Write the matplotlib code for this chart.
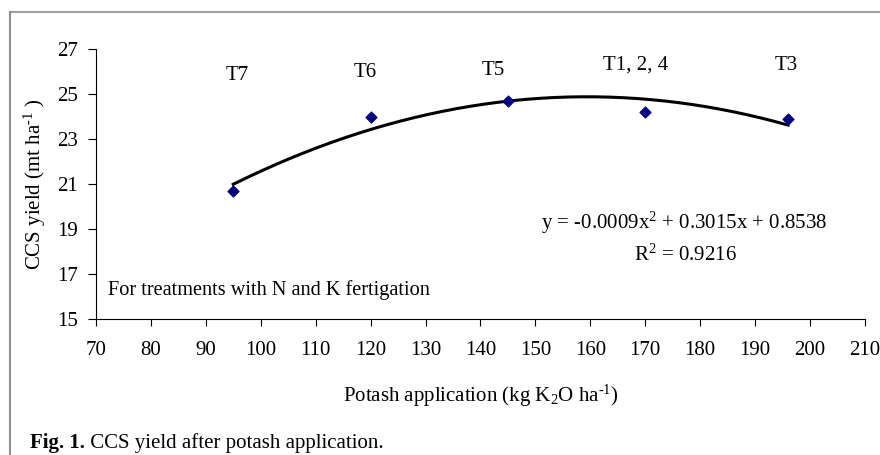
import numpy as np
import matplotlib.pyplot as plt
from matplotlib.lines import Line2D

plt.rcParams['font.family'] = ['Liberation Serif', 'DejaVu Serif']
plt.rcParams['mathtext.default'] = 'regular'

# potash rate (kg K2O/ha) and CCS yield (mt/ha)
potash = [95, 120, 145, 170, 196]
ccs_yield = [20.7, 24.0, 24.7, 24.2, 23.9]
treatments = ['T7', 'T6', 'T5', 'T1, 2, 4', 'T3']

fs = 15

fig = plt.figure(figsize=(8.8, 4.55), dpi=100)
ax = fig.add_axes([0.109, 0.299, 0.874, 0.593])

# quadratic trendline fitted to the points
coef = np.polyfit(potash, ccs_yield, 2)
xs = np.linspace(min(potash), max(potash), 200)
ax.plot(xs, np.polyval(coef, xs), color='black', lw=2.2)
ax.scatter(potash, ccs_yield, marker='D', s=30, color='#000080', zorder=3)

# treatment labels above the points
label_pos = [(95.7, 25.84), (119, 25.98), (142.3, 26.07), (168.3, 26.29), (195.6, 26.29)]
for name, (lx, ly) in zip(treatments, label_pos):
    ax.text(lx, ly, name, ha='center', va='center', fontsize=fs)

ax.text(177.1, 19.27, 'y = -0.0009x$^2$ + 0.3015x + 0.8538', ha='center', va='center', fontsize=fs)
ax.text(177.3, 17.84, 'R$^2$ = 0.9216', ha='center', va='center', fontsize=fs)
ax.text(72.2, 16.29, 'For treatments with N and K fertigation', ha='left', va='center', fontsize=14.6)

ax.set_xlim(70, 210)
ax.set_ylim(15, 27)
ax.set_xticks(range(70, 211, 10))
ax.set_yticks(range(15, 28, 2))
ax.spines['top'].set_visible(False)
ax.spines['right'].set_visible(False)
ax.tick_params(axis='x', direction='out', length=5, pad=11, labelsize=fs)
ax.tick_params(axis='y', direction='out', length=6, pad=7, labelsize=fs)

ax.set_xlabel('Potash application (kg K$_2$O ha$^{\u2010 1}$)', fontsize=fs)
ax.set_ylabel('CCS yield (mt ha$^{\u2010 1}$ )', fontsize=fs)
ax.xaxis.set_label_coords(0.5, -0.237)
ax.yaxis.set_label_coords(-0.062, 0.5)

# frame around the chart (top and left only)
fig.add_artist(Line2D([9.5 / 880, 1], [1 - 12 / 455] * 2, color='#a0a0a0', lw=1.5))
fig.add_artist(Line2D([9.5 / 880] * 2, [0, 1 - 12 / 455], color='#909090', lw=1.5))

cap = fig.text(30 / 880, 1 - 443 / 455, 'Fig. 1.', fontweight='bold', fontsize=fs, va='center')
fig.canvas.draw()
ax.annotate(' CCS yield after potash application.', xy=(1, 0.5), xycoords=cap,
            va='center', ha='left', fontsize=fs)

fig.savefig('out.png', dpi=100)
